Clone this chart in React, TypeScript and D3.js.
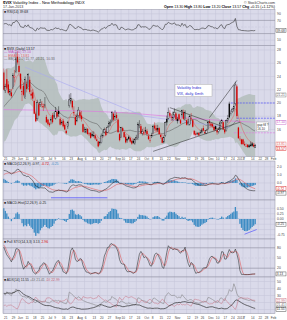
import React from 'react';
import * as d3 from 'd3';

// market holidays inside the charted window
const holidays = ['2012-05-28', '2012-07-04', '2012-09-03', '2012-10-29', '2012-10-30', '2012-11-22', '2012-12-25', '2013-01-01', '2013-01-21'];

// $VIX daily, 20-Apr-2012 .. 17-Jan-2013 (first 21 rows are warm-up for the indicators)
const opens = [
  18.10, 18.60, 18.85, 17.60, 16.30, 16.40, 16.90, 17.30, 17.20, 16.75, 17.70, 19.40, 19.20, 20.40, 19.70, 19.90, 21.20, 21.50, 21.60, 22.40, 23.90,
  24.60, 21.90, 23.60, 22.80, 21.30, 21.60, 22.30, 23.90,
  24.80, 27.00, 25.60, 24.40, 21.30, 22.60, 20.80, 22.90, 22.30, 23.50, 21.40, 21.60, 20.30, 18.40, 17.60, 19.80, 19.80, 19.60, 19.40, 19.70, 17.90,
  17.50, 16.90, 17.40, 18.20, 18.10, 17.70, 18.60, 18.80, 17.60, 16.90, 17.30, 16.70, 15.80, 16.50, 19.60, 20.30, 20.30, 18.40, 17.90, 17.30, 18.10,
  18.60, 18.10, 16.80, 16.00, 15.60, 16.10, 15.40, 15.50, 15.30, 14.90, 15.10, 14.50, 14.20, 13.90, 14.00, 14.90, 15.60, 15.70, 15.60, 16.50, 16.90, 17.20, 18.40,
  17.90, 18.20, 17.50, 15.30, 14.80, 16.20, 15.60, 14.90, 14.40, 14.90, 14.70, 14.30, 14.30, 13.90, 14.60, 14.60, 16.60, 16.50, 15.40,
  15.30, 15.90, 15.80, 15.00, 14.40, 14.90, 15.40, 16.60, 16.20, 15.90, 16.20, 15.20, 14.80, 14.10, 15.10, 17.60, 17.70, 18.50, 17.90, 17.50, 18.20,
  18.40, 17.30, 18.30, 17.40, 18.20, 18.60, 17.50, 17.40, 16.90, 16.80, 17.70, 17.40, 15.80, 15.40, 15.40, 15.50, 15.60, 15.60, 16.20, 15.50, 15.40,
  16.00, 17.20, 16.90, 16.80, 16.40, 16.50, 15.90, 15.70, 16.20, 17.10, 17.10, 16.00, 15.80, 17.40, 19.90, 18.50, 18.70, 19.10, 19.90, 22.50,
  16.30, 14.60, 14.50, 14.50, 13.80, 13.50, 13.70, 13.60, 13.70, 13.90, 13.70, 13.30,
];
const highs = [
  18.40, 19.70, 19.20, 17.70, 17.00, 16.90, 17.40, 17.50, 17.40, 17.90, 19.50, 19.90, 20.40, 21.30, 19.90, 20.80, 22.50, 22.70, 23.20, 24.70, 26.00,
  25.20, 22.90, 25.10, 23.30, 22.10, 22.10, 24.50, 25.00,
  27.70, 27.80, 26.40, 24.50, 22.60, 23.10, 24.00, 23.40, 24.50, 24.00, 22.00, 22.10, 20.50, 18.70, 20.50, 20.00, 20.60, 20.30, 19.90, 20.90, 18.20,
  17.60, 17.10, 17.90, 18.50, 18.60, 19.40, 18.90, 19.50, 17.80, 17.40, 17.60, 16.90, 16.00, 17.30, 21.30, 21.50, 20.50, 19.50, 18.20, 18.40, 19.40,
  18.90, 18.80, 16.90, 16.40, 16.30, 16.20, 15.60, 15.60, 15.70, 15.70, 15.30, 14.80, 14.30, 14.30, 15.40, 15.80, 16.30, 16.20, 16.60, 17.30, 17.50, 18.80, 18.60,
  18.90, 18.60, 17.70, 15.50, 16.40, 16.40, 15.70, 15.30, 14.70, 15.10, 14.90, 14.50, 14.60, 14.70, 15.20, 17.10, 17.40, 16.80, 16.10,
  16.30, 16.40, 16.10, 15.30, 14.90, 15.50, 16.70, 17.10, 16.70, 16.70, 16.40, 15.30, 14.90, 15.00, 17.20, 18.10, 19.30, 18.90, 18.30, 18.70, 19.20,
  18.60, 17.90, 18.40, 17.60, 19.00, 19.00, 18.90, 17.50, 17.60, 18.20, 18.50, 17.60, 15.90, 15.70, 15.60, 15.60, 15.90, 16.20, 16.60, 15.90, 16.10,
  17.30, 17.50, 17.10, 17.00, 16.60, 16.60, 16.00, 16.30, 17.30, 17.60, 17.20, 16.10, 17.50, 18.20, 20.20, 18.90, 19.30, 22.70, 23.20, 22.80,
  16.40, 15.00, 14.60, 14.60, 14.20, 13.90, 13.80, 13.80, 14.20, 14.10, 13.90, 13.80,
];
const lows = [
  17.20, 18.30, 17.90, 16.20, 15.90, 16.00, 16.70, 16.60, 16.50, 16.60, 17.50, 18.50, 18.60, 19.60, 18.60, 19.30, 21.00, 21.20, 21.30, 22.20, 23.80,
  21.90, 21.50, 22.00, 21.30, 21.10, 20.80, 22.10, 23.10,
  24.50, 25.80, 24.30, 22.00, 20.30, 21.00, 20.60, 21.60, 22.00, 21.40, 20.50, 20.30, 18.30, 17.10, 17.30, 18.00, 19.40, 19.30, 18.80, 19.20, 17.00,
  16.60, 16.40, 16.80, 16.90, 17.60, 17.50, 17.70, 17.90, 16.60, 16.70, 16.30, 15.90, 15.30, 16.10, 19.30, 19.90, 19.00, 18.00, 16.60, 17.10, 17.90,
  17.50, 17.20, 15.50, 15.50, 15.40, 15.20, 15.00, 14.60, 14.90, 14.80, 14.40, 14.20, 13.30, 13.60, 13.90, 14.80, 15.40, 15.00, 15.50, 16.30, 16.50, 17.10, 17.20,
  17.30, 17.40, 15.50, 14.20, 14.70, 15.60, 14.70, 13.90, 14.00, 14.40, 14.00, 13.70, 13.80, 13.70, 14.40, 14.40, 16.20, 15.30, 15.10,
  15.10, 15.40, 15.10, 14.40, 14.00, 14.70, 15.30, 15.80, 15.60, 15.60, 15.20, 14.60, 13.90, 13.90, 14.90, 16.60, 17.50, 17.80, 17.30, 17.30, 17.80,
  17.30, 16.90, 17.30, 16.80, 17.80, 17.40, 17.30, 16.60, 16.60, 16.60, 17.40, 16.30, 15.10, 14.90, 15.10, 15.00, 15.30, 15.40, 15.70, 15.30, 15.30,
  15.90, 16.60, 16.40, 16.30, 15.70, 15.80, 15.20, 15.40, 15.90, 16.80, 15.90, 15.30, 15.70, 17.00, 17.70, 18.10, 18.50, 18.70, 19.60, 17.60,
  14.60, 14.30, 13.70, 13.70, 13.50, 13.40, 13.20, 13.20, 13.40, 13.40, 13.30, 13.20,
];
const closes = [
  17.44, 18.97, 18.10, 16.24, 16.28, 16.32, 17.15, 16.88, 16.80, 17.56, 19.16, 18.94, 19.05, 20.08, 18.83, 19.89, 21.87, 21.97, 22.27, 24.49, 25.10,
  22.01, 22.48, 22.33, 21.54, 21.76, 21.03, 24.14, 24.06,
  26.66, 26.12, 24.68, 22.16, 21.72, 21.23, 23.56, 22.09, 24.27, 21.68, 21.11, 20.67, 18.38, 17.24, 20.08, 18.11, 20.11, 19.72, 19.45, 19.71, 17.08,
  16.80, 16.66, 17.50, 17.10, 17.98, 18.72, 17.95, 18.33, 16.74, 17.11, 16.48, 16.00, 15.45, 17.08, 20.47, 20.73, 19.34, 18.53, 16.70, 18.03, 18.93,
  17.96, 17.57, 15.64, 15.95, 15.99, 15.32, 15.28, 14.74, 15.06, 15.08, 14.64, 14.29, 13.45, 14.02, 15.02, 15.11, 15.98, 15.18, 16.35, 16.95, 17.06, 18.59, 17.47,
  17.98, 17.74, 15.60, 14.38, 16.28, 15.80, 14.85, 14.05, 14.51, 14.59, 14.18, 13.88, 13.98, 14.51, 14.80, 16.80, 16.81, 15.43, 15.73,
  15.60, 15.71, 15.29, 14.55, 14.33, 15.12, 16.41, 16.16, 15.86, 16.14, 15.30, 14.87, 13.99, 14.80, 17.06, 17.07, 18.61, 18.08, 17.80, 17.81, 18.60,
  17.58, 17.59, 17.56, 16.92, 18.87, 17.60, 18.61, 16.71, 17.00, 17.99, 17.70, 16.41, 15.24, 15.20, 15.31, 15.14, 15.50, 15.92, 15.85, 15.51, 15.87,
  17.02, 16.98, 16.58, 16.50, 15.90, 16.05, 15.57, 15.95, 17.00, 17.36, 16.04, 15.57, 17.36, 17.67, 17.84, 18.48, 19.08, 19.47, 22.72, 18.02,
  14.68, 14.56, 13.83, 13.79, 13.62, 13.49, 13.36, 13.36, 13.52, 13.55, 13.42, 13.57,
];

// 200-day MA (magenta) and the hand-drawn lines
const ma200Points: [string, number][] = [
  ['2012-05-21', 19.0], ['2012-07-02', 18.9], ['2012-08-01', 18.8], ['2012-09-04', 18.6],
  ['2012-10-01', 18.3], ['2012-11-01', 17.9], ['2012-12-03', 17.5], ['2013-01-17', 17.1],
];
const lavenderLine: [string, number][] = [['2012-06-11', 25.4], ['2012-10-01', 18.0], ['2012-12-21', 16.3]];
const blackLines: [string, number][][] = [
  [['2012-10-24', 19.3], ['2012-12-14', 16.5]],
  [['2012-10-09', 12.7], ['2013-01-03', 17.1]],
  [['2012-12-04', 17.8], ['2012-12-31', 23.4]],
];
const levelLines: { from: string; value: number; color: string }[] = [
  { from: '2012-12-24', value: 20.0, color: '#4040ff' },
  { from: '2012-12-31', value: 17.7, color: '#4040ff' },
  { from: '2012-12-27', value: 15.5, color: '#e070e0' },
];
const macdFloor = { from: '2012-07-05', to: '2012-08-27', value: -1.85 };
const histTrend: [string, number][] = [['2013-01-08', -0.72], ['2013-01-18', -0.5]];

// weekly ticks; the month name sits on the week that opens the month
const xTicks: [string, string][] = [
  ['2012-05-21', '21'], ['2012-05-29', '29'], ['2012-06-04', 'Jun'], ['2012-06-11', '11'], ['2012-06-18', '18'], ['2012-06-25', '25'],
  ['2012-07-02', 'Jul'], ['2012-07-09', '9'], ['2012-07-16', '16'], ['2012-07-23', '23'], ['2012-07-30', 'Aug'], ['2012-08-06', '6'],
  ['2012-08-13', '13'], ['2012-08-20', '20'], ['2012-08-27', '27'], ['2012-09-04', 'Sep'], ['2012-09-10', '10'], ['2012-09-17', '17'],
  ['2012-09-24', '24'], ['2012-10-01', 'Oct'], ['2012-10-08', '8'], ['2012-10-15', '15'], ['2012-10-22', '22'], ['2012-10-31', 'Nov'],
  ['2012-11-12', '12'], ['2012-11-19', '19'], ['2012-11-26', '26'], ['2012-12-03', 'Dec'], ['2012-12-10', '10'], ['2012-12-17', '17'],
  ['2012-12-24', '24'], ['2012-12-31', '2013'], ['2013-01-07', '7'], ['2013-01-14', '14'], ['2013-01-22', '22'], ['2013-01-28', '28'],
  ['2013-02-01', 'Feb'],
];

const fmtDay = d3.timeFormat('%Y-%m-%d');
const calendar = d3.timeDay.range(new Date(2012, 3, 20), new Date(2013, 1, 12))
  .filter(d => d.getDay() !== 0 && d.getDay() !== 6 && !holidays.includes(fmtDay(d)))
  .map(fmtDay);
const n = closes.length;
const start = calendar.indexOf('2012-05-21');
const shown = d3.range(start, n);
const last = n - 1;

// ---- indicators ----
const emaOf = (v: number[], p: number) => {
  const k = 2 / (p + 1);
  const out: number[] = [];
  v.forEach((q, i) => out.push(i ? q * k + out[i - 1] * (1 - k) : q));
  return out;
};
const smaOf = (v: number[], p: number) => v.map((_, i) => {
  if (i < p - 1) return NaN;
  const s = v.slice(i - p + 1, i + 1);
  return s.some(q => !Number.isFinite(q)) ? NaN : d3.sum(s) / p;
});
const sma20 = smaOf(closes, 20);
const sd20 = closes.map((_, i) => {
  if (i < 19) return NaN;
  const s = closes.slice(i - 19, i + 1);
  const m = d3.mean(s)!;
  return Math.sqrt(d3.sum(s, q => (q - m) ** 2) / 20);
});
const bbUp = sma20.map((m, i) => m + 2 * sd20[i]);
const bbDn = sma20.map((m, i) => m - 2 * sd20[i]);
const ema8 = emaOf(closes, 8);

const rsi: number[] = [NaN];
{
  let ag = 0, al = 0;
  for (let i = 1; i < n; i++) {
    const ch = closes[i] - closes[i - 1];
    const g = Math.max(ch, 0), l = Math.max(-ch, 0);
    if (i <= 14) {
      ag += g / 14; al += l / 14;
      rsi.push(i < 14 ? NaN : 100 - 100 / (1 + ag / al));
    } else {
      ag = (ag * 13 + g) / 14; al = (al * 13 + l) / 14;
      rsi.push(100 - 100 / (1 + ag / al));
    }
  }
}

const e12 = emaOf(closes, 12), e26 = emaOf(closes, 26);
const macd = e12.map((v, i) => v - e26[i]);
const signal = emaOf(macd, 9);
const hist = macd.map((v, i) => v - signal[i]);

const rawK = closes.map((c, i) => {
  if (i < 13) return NaN;
  const lo = d3.min(lows.slice(i - 13, i + 1))!, hi = d3.max(highs.slice(i - 13, i + 1))!;
  return ((c - lo) / (hi - lo)) * 100;
});
const fullK = smaOf(rawK, 3);
const fullD = smaOf(fullK, 3);

const pdi: number[] = [], mdi: number[] = [], adx: number[] = [];
{
  let sTr = 0, sP = 0, sM = 0, a = NaN;
  for (let i = 0; i < n; i++) {
    let tr = highs[i] - lows[i], pd = 0, md = 0;
    if (i > 0) {
      const up = highs[i] - highs[i - 1], dn = lows[i - 1] - lows[i];
      pd = up > dn && up > 0 ? up : 0;
      md = dn > up && dn > 0 ? dn : 0;
      tr = Math.max(tr, Math.abs(highs[i] - closes[i - 1]), Math.abs(lows[i] - closes[i - 1]));
      if (i <= 14) { sTr += tr; sP += pd; sM += md; }
      else { sTr = sTr - sTr / 14 + tr; sP = sP - sP / 14 + pd; sM = sM - sM / 14 + md; }
    }
    if (i < 14) { pdi.push(NaN); mdi.push(NaN); adx.push(NaN); continue; }
    const p = (100 * sP) / sTr, m = (100 * sM) / sTr;
    const dx = (100 * Math.abs(p - m)) / (p + m);
    a = Number.isFinite(a) ? (a * 13 + dx) / 14 : dx;
    pdi.push(p); mdi.push(m); adx.push(a);
  }
}

// ---- layout ----
const X0 = 3, X1 = 275;
const x = d3.scaleLinear().domain([start - 0.5, start + 178]).range([X0, X1]);
const xd = (d: string) => x(calendar.indexOf(d));
const yRsi = d3.scaleLinear().domain([0, 100]).range([43.5, 10.5]);
const yMain = d3.scaleLinear().domain([12.0, 28.6]).range([156, 46]);
const yMacd = d3.scaleLinear().domain([-2.0, 2.6]).range([199, 162]);
const yHist = d3.scaleLinear().domain([-0.9, 0.85]).range([238, 201]);
const ySto = d3.scaleLinear().domain([0, 100]).range([275, 241]);
const yAdx = d3.scaleLinear().domain([5, 55]).range([313, 278]);

const FONT = 'Liberation Sans, Arial, Helvetica, sans-serif';
const BG = '#dadaea', GRID = '#c4c4d8', BORDER = '#8e8ea0', HEAVY = '#8a8a9a';
const RED = '#d40000', BLUE = '#3d8cc4';

const f2 = (v: number) => v.toFixed(2);

const pathOf = (vals: number[], y: d3.ScaleLinear<number, number>) =>
  d3.line<number>().defined(i => Number.isFinite(vals[i])).x(i => x(i)).y(i => y(vals[i]))(shown) ?? '';

const pointsPath = (pts: [string, number][], y: d3.ScaleLinear<number, number>, curve = d3.curveLinear) =>
  d3.line<[string, number]>().x(p => xd(p[0])).y(p => y(p[1])).curve(curve)(pts) ?? '';

function Frame(props: {
  id: string; top: number; bottom: number; y: d3.ScaleLinear<number, number>;
  grid: number[]; heavy?: number[]; dashed?: number[]; labels: [number, string][];
  boxes?: [number, string, string][]; children?: React.ReactNode;
}) {
  const { id, top, bottom, y, grid, heavy = [], dashed = [], labels, boxes = [] } = props;
  // value boxes on the right axis, pushed apart so they don't stack on each other
  const placed = boxes.map(([v, t, c]) => ({ yy: Math.min(Math.max(y(v), top + 2), bottom - 2), t, c }))
    .sort((a, b) => a.yy - b.yy);
  placed.forEach((b, k) => { if (k && b.yy - placed[k - 1].yy < 4.4) b.yy = placed[k - 1].yy + 4.4; });
  const freeLabels = labels.filter(([v]) => placed.every(b => Math.abs(b.yy - y(v)) > 4.2));
  return (
    <g>
      <clipPath id={id}><rect x={X0} y={top} width={X1 - X0} height={bottom - top} /></clipPath>
      <rect x={X0} y={top} width={X1 - X0} height={bottom - top} fill={BG} />
      {xTicks.map(([d]) => (
        <line key={d} x1={xd(d)} x2={xd(d)} y1={top} y2={bottom} stroke={GRID} strokeWidth={0.5} />
      ))}
      {grid.map(v => (
        <line key={v} x1={X0} x2={X1} y1={y(v)} y2={y(v)}
          stroke={heavy.includes(v) ? HEAVY : GRID}
          strokeDasharray={dashed.includes(v) ? '2,1.5' : undefined}
          strokeWidth={heavy.includes(v) ? 0.6 : 0.5} />
      ))}
      <g clipPath={`url(#${id})`}>{props.children}</g>
      <rect x={X0} y={top} width={X1 - X0} height={bottom - top} fill="none" stroke={BORDER} strokeWidth={0.5} />
      {freeLabels.map(([v, t]) => (
        <text key={t} x={X1 + 2} y={y(v) + 1.2} fontSize={3.4} fill="#444">{t}</text>
      ))}
      {placed.map((b, k) => (
        <g key={k}>
          <rect x={X1 + 1} y={b.yy - 2} width={10} height={4} fill="#fff" stroke={b.c} strokeWidth={0.4} />
          <text x={X1 + 1.8} y={b.yy + 1.2} fontSize={3.2} fill={b.c}>{b.t}</text>
        </g>
      ))}
    </g>
  );
}

function Bars({ vals, y, color }: { vals: number[]; y: d3.ScaleLinear<number, number>; color: string }) {
  return (
    <g>
      {shown.map(i => {
        const y0 = y(0), y1 = y(vals[i]);
        return <rect key={i} x={x(i) - 0.65} width={1.3} y={Math.min(y0, y1)} height={Math.abs(y1 - y0)} fill={color} />;
      })}
    </g>
  );
}

function XLabels({ y }: { y: number }) {
  return (
    <g>
      {xTicks.map(([d, t]) => (
        <text key={d} x={xd(d) + 0.3} y={y} fontSize={3.2} fill="#444">{t}</text>
      ))}
    </g>
  );
}

export default function App() {
  const bbArea = d3.area<number>()
    .defined(i => Number.isFinite(bbUp[i]))
    .x(i => x(i)).y0(i => yMain(bbDn[i])).y1(i => yMain(bbUp[i]))(shown) ?? '';
  const chg = closes[last] - closes[last - 1];
  const ma200Last = ma200Points[ma200Points.length - 1][1];

  return (
    <div style={{ position: 'absolute', left: 0, top: 0 }}>
      <svg width={287} height={320} fontFamily={FONT} style={{ display: 'block', background: '#fff' }}>
        {/* header */}
        <text x={3} y={4.2} fontSize={4}><tspan fontWeight="bold">$VIX</tspan> Volatility Index - New Methodology  INDX</text>
        <text x={3} y={8.3} fontSize={3.6} fill="#333">17-Jan-2013</text>
        <text x={275} y={4.2} fontSize={3.6} textAnchor="end" fill="#333">© StockCharts.com</text>
        <text x={275} y={8.3} fontSize={3.6} textAnchor="end">
          <tspan fontWeight="bold">Open</tspan> {f2(opens[last])} <tspan fontWeight="bold">High</tspan> {f2(highs[last])}{' '}
          <tspan fontWeight="bold">Low</tspan> {f2(lows[last])} <tspan fontWeight="bold">Close</tspan> {f2(closes[last])}{' '}
          <tspan fontWeight="bold">Chg</tspan> +{f2(chg)} (+{f2((chg / closes[last - 1]) * 100)}%)
        </text>

        {/* RSI */}
        <Frame id="c-rsi" top={9.5} bottom={45.5} y={yRsi} grid={[10, 30, 50, 70, 90]} heavy={[30, 70]} dashed={[50]}
          labels={[[90, '90'], [70, '70'], [50, '50'], [30, '30'], [10, '10']]} boxes={[[rsi[last], f2(rsi[last]), '#333']]}>
          <path d={pathOf(rsi, yRsi)} fill="none" stroke="#333" strokeWidth={0.6} />
        </Frame>
        <text x={4} y={13} fontSize={3.4} fill="#222">■ RSI(14) {f2(rsi[last])}</text>

        {/* price */}
        <Frame id="c-main" top={45.5} bottom={156.5} y={yMain} grid={[14, 16, 18, 20, 22, 24, 26, 28]}
          labels={[[28, '28'], [26, '26'], [24, '24'], [22, '22'], [20, '20'], [18, '18'], [16, '16'], [14, '14']]}
          boxes={[
            [bbUp[last], f2(bbUp[last]), '#666'],
            [ma200Last, f2(ma200Last), '#c050c0'],
            [ema8[last], f2(ema8[last]), '#e06060'],
            [closes[last], f2(closes[last]), RED],
          ]}>
          <path d={bbArea} fill="#b3bdbb" opacity={0.85} />
          <path d={pathOf(sma20, yMain)} fill="none" stroke="#555" strokeWidth={0.5} />
          <path d={pointsPath(ma200Points, yMain, d3.curveMonotoneX)} fill="none" stroke="#e070e0" strokeWidth={0.6} />
          <path d={pointsPath(lavenderLine, yMain)} fill="none" stroke="#a8a8f2" strokeWidth={0.6} />
          {levelLines.map((l, k) => (
            <line key={k} x1={xd(l.from)} x2={X1} y1={yMain(l.value)} y2={yMain(l.value)}
              stroke={l.color} strokeWidth={0.6} strokeDasharray="2,1" />
          ))}
          <path d={pathOf(ema8, yMain)} fill="none" stroke="#e06060" strokeWidth={0.5} />
          {shown.map(i => {
            const up = closes[i] >= closes[i - 1];
            const col = up ? '#000' : RED;
            const hollow = closes[i] > opens[i];
            const yt = yMain(Math.max(opens[i], closes[i])), yb = yMain(Math.min(opens[i], closes[i]));
            return (
              <g key={i}>
                <line x1={x(i)} x2={x(i)} y1={yMain(highs[i])} y2={yMain(lows[i])} stroke={col} strokeWidth={0.4} />
                <rect x={x(i) - 0.65} width={1.3} y={yt} height={Math.max(yb - yt, 0.4)}
                  fill={hollow ? BG : col} stroke={col} strokeWidth={hollow ? 0.35 : 0} />
              </g>
            );
          })}
          {blackLines.map((l, k) => (
            <path key={k} d={pointsPath(l, yMain)} stroke="#222" strokeWidth={0.5} fill="none" />
          ))}
          <rect x={175} y={84.3} width={37} height={12.4} fill="#fff" stroke="#999" strokeWidth={0.4} />
          <text x={177} y={89} fontSize={3.8} fill="#2a2ad0">Volatility Index</text>
          <text x={177} y={94.5} fontSize={3.8} fill="#2a2ad0">VIX, daily, 6mth</text>
          <rect x={256.5} y={122} width={12} height={9} fill="#fff" stroke="#999" strokeWidth={0.4} />
          <text x={257.3} y={125.6} fontSize={3} fill="#222">gap fill ?</text>
          <text x={257.3} y={129.6} fontSize={3} fill="#222">16.10</text>
        </Frame>
        <g fontSize={3.4}>
          <text x={4} y={49.5} fill="#111">■ $VIX (Daily) {f2(closes[last])}</text>
          <text x={4} y={53} fill="#c050c0">— MA(200) {f2(ma200Last)}</text>
          <text x={4} y={56.5} fill="#e06060">— EMA(8) {f2(ema8[last])}</text>
          <text x={4} y={60} fill="#666">— BB(20,2.0) {f2(sma20[last])}, {f2(bbUp[last])}, {f2(bbDn[last])}</text>
        </g>
        <XLabels y={160} />

        {/* MACD */}
        <Frame id="c-macd" top={161} bottom={200} y={yMacd} grid={[-1, 0, 1, 2]}
          labels={[[2, '2.0'], [1, '1.0'], [0, '0.0'], [-1, '-1.0']]}
          boxes={[[signal[last], f2(signal[last]), RED], [macd[last], f2(macd[last]), '#333']]}>
          <Bars vals={hist} y={yMacd} color={BLUE} />
          <path d={pathOf(signal, yMacd)} fill="none" stroke="#e05050" strokeWidth={0.55} />
          <path d={pathOf(macd, yMacd)} fill="none" stroke="#222" strokeWidth={0.55} />
          <line x1={xd(macdFloor.from)} x2={xd(macdFloor.to)} y1={yMacd(macdFloor.value)} y2={yMacd(macdFloor.value)}
            stroke="#4040ff" strokeWidth={0.7} />
        </Frame>
        <text x={4} y={164.5} fontSize={3.4} fill="#222">
          ■ MACD(12,26,9) {f2(macd[last])}, <tspan fill={RED}>{f2(signal[last])}</tspan>, <tspan fill={BLUE}>{f2(hist[last])}</tspan>
        </text>

        {/* MACD histogram */}
        <Frame id="c-hist" top={200} bottom={239} y={yHist} grid={[-0.75, -0.5, -0.25, 0, 0.25, 0.5]}
          labels={[[0.5, '0.50'], [0.25, '0.25'], [0, '0.00'], [-0.25, '-0.25'], [-0.75, '-0.75']]}
          boxes={[[hist[last], f2(hist[last]), '#333']]}>
          <Bars vals={hist} y={yHist} color={BLUE} />
          <path d={pointsPath(histTrend, yHist)} stroke="#4040ff" strokeWidth={0.6} fill="none" />
        </Frame>
        <text x={4} y={203.5} fontSize={3.4} fill="#222">■ MACD-Hist(12,26,9) {f2(hist[last])}</text>

        {/* Full stochastics */}
        <Frame id="c-sto" top={239} bottom={277} y={ySto} grid={[20, 50, 80]} heavy={[20, 80]} dashed={[50]}
          labels={[[80, '80'], [50, '50'], [20, '20']]} boxes={[[fullK[last], f2(fullK[last]), '#333']]}>
          <path d={pathOf(fullD, ySto)} fill="none" stroke="#e05050" strokeWidth={0.55} />
          <path d={pathOf(fullK, ySto)} fill="none" stroke="#222" strokeWidth={0.55} />
        </Frame>
        <text x={4} y={242.5} fontSize={3.4} fill="#222">
          ■ Full STO(14,3,3) {f2(fullK[last])}, <tspan fill={RED}>{f2(fullD[last])}</tspan>
        </text>

        {/* ADX */}
        <Frame id="c-adx" top={277} bottom={313.5} y={yAdx} grid={[10, 20, 30, 40, 50]}
          labels={[[50, '50'], [40, '40'], [30, '30'], [20, '20'], [10, '10']]}
          boxes={[[mdi[last], f2(mdi[last]), '#c06070'], [pdi[last], f2(pdi[last]), '#666'], [adx[last], f2(adx[last]), '#222']]}>
          <path d={pathOf(pdi, yAdx)} fill="none" stroke="#777" strokeWidth={0.5} />
          <path d={pathOf(mdi, yAdx)} fill="none" stroke="#c87080" strokeWidth={0.5} />
          <path d={pathOf(adx, yAdx)} fill="none" stroke="#222" strokeWidth={0.65} />
        </Frame>
        <text x={4} y={280.5} fontSize={3.4} fill="#222">
          ■ ADX(14) {f2(adx[last])} <tspan fill="#666">+DI {f2(pdi[last])}</tspan> <tspan fill="#c06070">-DI {f2(mdi[last])}</tspan>
        </text>
        <XLabels y={318.5} />
      </svg>
    </div>
  );
}
